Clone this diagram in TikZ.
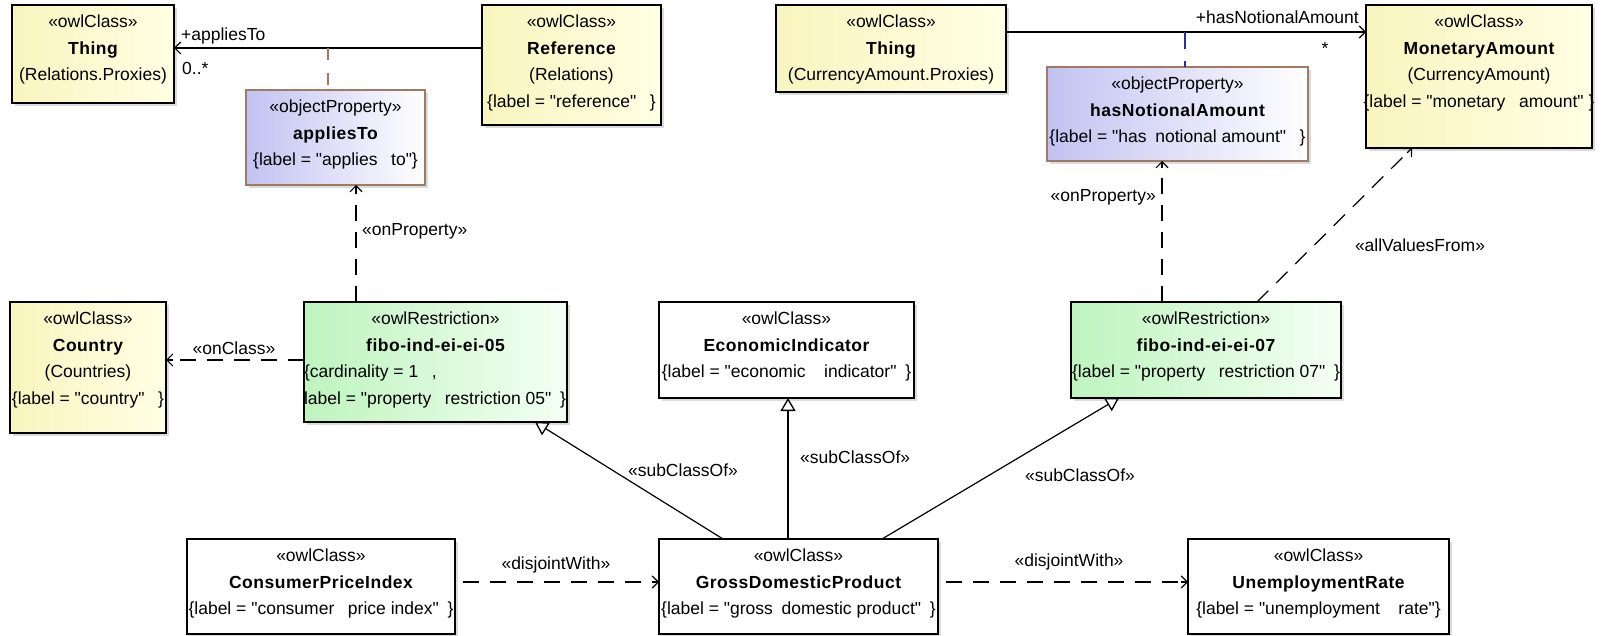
\documentclass[tikz,border=0pt]{standalone}
\usepackage{fontspec}
\setmainfont{Liberation Sans}[Ligatures=TeXOff]
\usetikzlibrary{arrows.meta,shadows,calc}
\definecolor{ylwL}{HTML}{F8F5BE}
\definecolor{ylwR}{HTML}{FFFFE4}
\definecolor{lavL}{HTML}{C2C2F2}
\definecolor{lavR}{HTML}{FFFFFF}
\definecolor{grnL}{HTML}{BEF4BE}
\definecolor{grnR}{HTML}{F4FFF4}
\definecolor{propBorder}{HTML}{A07A62}
\definecolor{acBlue}{HTML}{2A2AB0}
\newcommand{\bxt}[3]{\parbox[c][#2pt][t]{#1pt}{\fontsize{17.5}{26.5}\selectfont\centering\vspace*{10pt}#3\par}}
\newcommand{\nm}[1]{{\bfseries\addfontfeatures{LetterSpace=3}#1}}
\newcommand{\lb}[1]{\makebox[\linewidth][c]{#1}}
\begin{document}
\begin{tikzpicture}[x=1pt,y=-1pt,
  font=\fontsize{17.5}{26}\selectfont,
  box/.style={draw=black, line width=1.3pt, inner sep=0pt, outer sep=0pt, anchor=north west,
    drop shadow={shadow xshift=3pt, shadow yshift=-3pt, fill=black!28}},
  plainbox/.style={box, fill=white},
  ylwbox/.style={box, left color=ylwL, right color=ylwR},
  propbox/.style={box, draw=propBorder, left color=lavL, right color=lavR},
  restrbox/.style={box, left color=grnL, right color=grnR},
  conn/.style={line width=1.2pt, black},
  dashconn/.style={conn, dash pattern=on 16pt off 11pt},
  openarrow/.style={-{Straight Barb[length=6pt,width=12pt,line width=1.2pt]}},
  subarrow/.style={conn, -{Triangle[open,fill=white,length=13pt,width=15pt,line width=1.3pt]}},
  lbl/.style={inner sep=0pt}
]
\useasboundingbox (0,0) rectangle (1602,636);
\fill[white] (0,0) rectangle (1602,636);

% boxes
\node[ylwbox] (thingR) at (12,5) {\bxt{162}{98}{«owlClass»\\\nm{Thing}\\(Relations.Proxies)}};
\node[ylwbox] (ref) at (482,5) {\bxt{179}{120}{«owlClass»\\\nm{Reference}\\(Relations)\\\lb{\{label = "reference"\enspace\ \}}}};
\node[propbox] (applies) at (246,90) {\bxt{179}{95}{«objectProperty»\\\nm{appliesTo}\\\lb{\{label = "applies\enspace\ to"\}}}};
\node[ylwbox] (thingC) at (776,5) {\bxt{230}{87}{«owlClass»\\\nm{Thing}\\\lb{(CurrencyAmount.Proxies)}}};
\node[propbox] (hasnot) at (1047,67) {\bxt{261}{94}{«objectProperty»\\\nm{hasNotionalAmount}\\\lb{\{label = "has\enspace notional amount"\enspace\ \}}}};
\node[ylwbox] (money) at (1366,5) {\bxt{226}{143}{«owlClass»\\\nm{MonetaryAmount}\\(CurrencyAmount)\\\lb{\{label = "monetary\enspace\ amount" \}}}};
\node[ylwbox] (country) at (10,302) {\bxt{156}{131}{«owlClass»\\\nm{Country}\\(Countries)\\\lb{\{label = "country"\enspace\ \}}}};
\node[restrbox] (f05) at (304,302) {\bxt{263}{120}{«owlRestriction»\\\nm{fibo-ind-ei-ei-05}\par\raggedright\{cardinality = 1\enspace\ ,\\label = "property\enspace\ restriction 05"\enspace\}}};
\node[plainbox] (econ) at (659,302) {\bxt{255}{96}{«owlClass»\\\nm{EconomicIndicator}\\\lb{\{label = "economic\enspace\ \ indicator"\enspace\}}}};
\node[restrbox] (f07) at (1071,302) {\bxt{270}{96}{«owlRestriction»\\\nm{fibo-ind-ei-ei-07}\\\lb{\{label = "property\enspace\ restriction 07"\enspace\}}}};
\node[plainbox] (cpi) at (187,539) {\bxt{268}{95}{«owlClass»\\\nm{ConsumerPriceIndex}\\\lb{\{label = "consumer\enspace\ price index"\enspace\}}}};
\node[plainbox] (gdp) at (659,539) {\bxt{279}{95}{«owlClass»\\\nm{GrossDomesticProduct}\\\lb{\{label = "gross\enspace domestic product"\enspace\}}}};
\node[plainbox] (unemp) at (1188,539) {\bxt{261}{95}{«owlClass»\\\nm{UnemploymentRate}\\\lb{\{label = "unemployment\enspace\ \ rate"\}}}};

% associations
\draw[conn, openarrow] (ref.west |- 0,48) -- (thingR.east |- 0,48);
\node[lbl, anchor=west] (lApplies) at (181,36) {+appliesTo};
\node[lbl, anchor=west] (lMult1) at (182,68) {0..*};
\coordinate (ac1) at (328,48);
\draw[line width=1.2pt, propBorder, dash pattern=on 12pt off 13pt] (ac1) -- (applies.north -| ac1);

\draw[conn, openarrow] (thingC.east |- 0,32) -- (money.west |- 0,32);
\node[lbl, anchor=east] (lHasNot) at (1359,17) {+hasNotionalAmount};
\node[lbl] (lMult2) at (1325,48) {*};
\coordinate (ac2) at (1185,32);
\draw[line width=1.2pt, acBlue, dash pattern=on 17pt off 12pt] (ac2) -- (hasnot.north -| ac2);

% dependency end points
\coordinate (oc1) at (f05.west |- 0,360);   \coordinate (oc2) at (country.east |- 0,360);
\coordinate (op1a) at (f05.north -| 356,0); \coordinate (op1b) at (applies.south -| 356,0);
\coordinate (op2a) at (f07.north -| 1162,0); \coordinate (op2b) at (hasnot.south -| 1162,0);
\coordinate (avA) at (f07.north -| 1257,0); \coordinate (avB) at (money.south -| 1412,0);
\coordinate (dj1a) at ([xshift=8pt]cpi.east |- 0,582); \coordinate (dj1b) at (gdp.west |- 0,582);
\coordinate (dj2a) at ([xshift=8pt]gdp.east |- 0,582); \coordinate (dj2b) at (unemp.west |- 0,582);

% dependencies: dashed body + solid open tip
\foreach \a/\b in {oc1/oc2, op1a/op1b, op2a/op2b, avA/avB, dj1a/dj1b, dj2a/dj2b}{
  \draw[dashconn] (\a) -- ($(\b)!3pt!(\a)$);
  \draw[conn, openarrow] ($(\b)!7pt!(\a)$) -- (\b);
}
\node[lbl] (lOnClass) at (234,348) {«onClass»};
\node[lbl, anchor=west] (lOnProp1) at (362,231) {«onProperty»};
\node[lbl, anchor=east] (lOnProp2) at (1156,197) {«onProperty»};
\node[lbl] (lAllVal) at (1420,245) {«allValuesFrom»};
\node[lbl] (lDis1) at (556,565) {«disjointWith»};
\node[lbl] (lDis2) at (1069,562) {«disjointWith»};

% generalizations
\draw[subarrow] (gdp.north -| 723,0) -- (f05.south -| 535,0);
\node[lbl] (lSub1) at (683,470) {«subClassOf»};
\draw[subarrow] (gdp.north -| 788,0) -- (econ.south -| 788,0);
\node[lbl, anchor=west] (lSub2) at (800,457) {«subClassOf»};
\draw[subarrow] (gdp.north -| 882,0) -- (f07.south -| 1119,0);
\node[lbl] (lSub3) at (1080,475) {«subClassOf»};
\end{tikzpicture}
\end{document}
